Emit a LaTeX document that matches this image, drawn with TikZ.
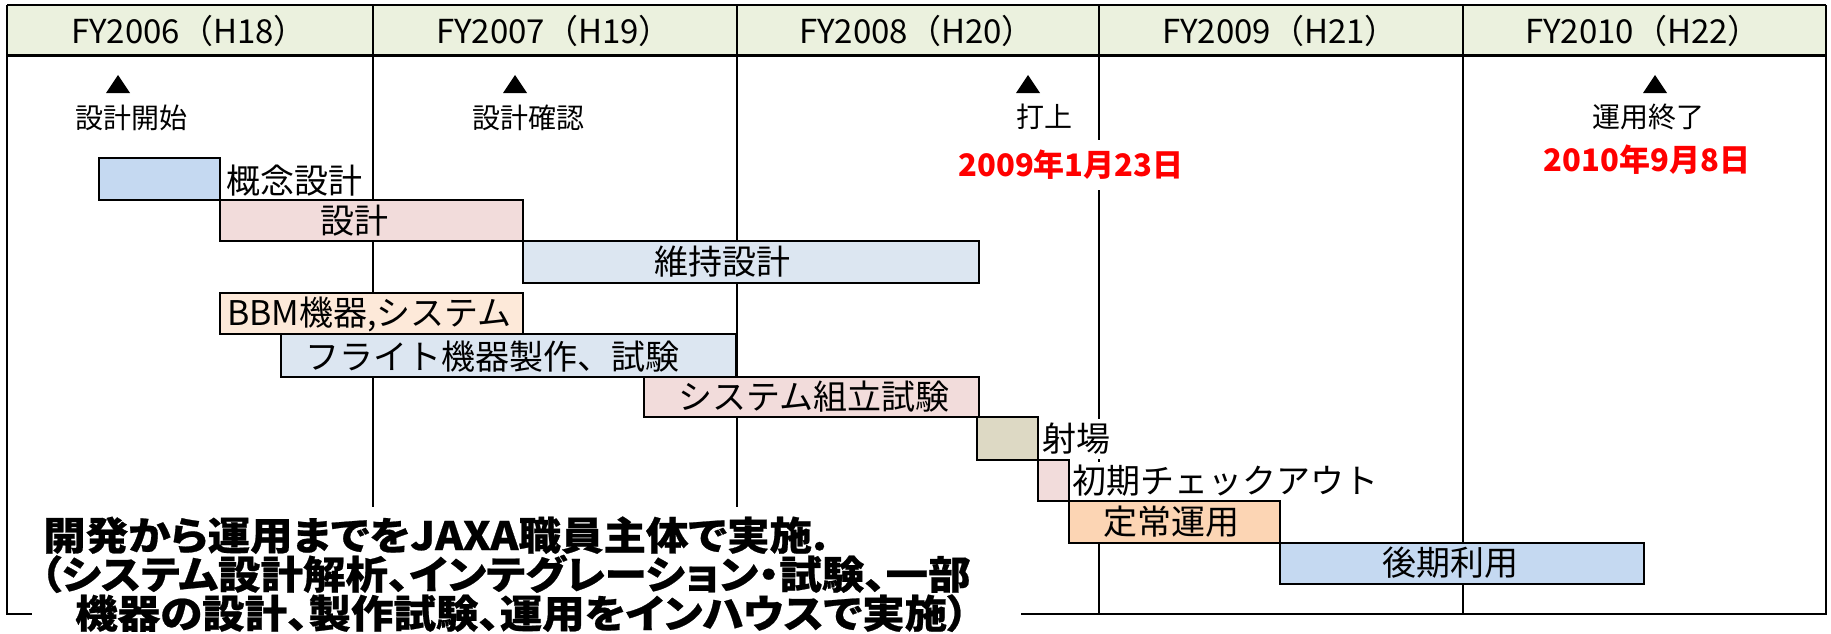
\documentclass[tikz,border=0pt]{standalone}
\usepackage{fontspec}
\newfontfamily\jp{Noto Sans CJK JP}
\newfontfamily\jpp{Noto Sans CJK JP}[RawFeature=+palt, FakeStretch=1.09, BoldFeatures={FakeBold=0.6}]
\definecolor{hdr}{HTML}{EBF1DE}
\definecolor{cblue}{HTML}{C5D9F1}
\definecolor{cpink}{HTML}{F2DCDB}
\definecolor{cgray}{HTML}{DCE6F1}
\definecolor{cpeach}{HTML}{FDE9D9}
\definecolor{ctan}{HTML}{DDD9C4}
\definecolor{corange}{HTML}{FCD5B4}
\tikzset{
  gridline/.style={line width=2.2pt, draw=black},
  bar/.style={draw=black, line width=2.5pt},
  barlbl/.style={font=\jp\fontsize{34}{34}\selectfont, inner sep=0pt},
  hdrlbl/.style={font=\jp\fontsize{33}{33}\selectfont, inner sep=0pt},
  mslbl/.style={font=\jp\fontsize{28}{28}\selectfont, inner sep=0pt},
  datelbl/.style={font=\jp\bfseries\fontsize{31}{31}\selectfont, text=red, fill=white, inner xsep=2pt, inner ysep=10pt},
  tri/.style={fill=black},
  note/.style={font=\jpp\bfseries\fontsize{39}{39}\selectfont, inner sep=0pt, anchor=base west},
}
\begin{document}
\begin{tikzpicture}[x=1pt,y=-1pt]
\useasboundingbox (0,0) rectangle (1831,634);
\fill[white] (0,0) rectangle (1831,634);
% header
\fill[hdr] (7,5) rectangle (1826,56);
\draw[gridline] (7,5) -- (1826,5);
\draw[gridline,line width=3pt] (7,56) -- (1826,56);
\draw[gridline] (7,5) -- (7,614) -- (32,614);
\draw[gridline] (1826,5) -- (1826,614) -- (1021,614);
\foreach \x in {373,737,1099,1463} \draw[gridline] (\x,5) -- (\x,614);
\node[hdrlbl] (h1) at (189,31) {FY2006（H18）};
\node[hdrlbl] (h2) at (554,31) {FY2007（H19）};
\node[hdrlbl] (h3) at (917,31) {FY2008（H20）};
\node[hdrlbl] (h4) at (1280,31) {FY2009（H21）};
\node[hdrlbl] (h5) at (1643,31) {FY2010（H22）};
% milestones
\foreach \cx in {118,515,1028,1655} \fill[tri] (\cx-12,93) -- (\cx+12,93) -- (\cx,75) -- cycle;
\node[mslbl] (m1) at (131,118) {設計開始};
\node[mslbl] (m2) at (528,118) {設計確認};
\node[mslbl] (m3) at (1044,117) {打上};
\node[mslbl] (m4) at (1648,117) {運用終了};
\node[datelbl] (d1) at (1071,165) {2009年1月23日};
\node[datelbl] (d2) at (1647,160) {2010年9月8日};
% bars
\draw[bar,fill=cblue] (99,158) rectangle (220,200);
\draw[bar,fill=cpink] (220,200) rectangle (523,241);
\draw[bar,fill=cgray] (523,241) rectangle (979,283);
\draw[bar,fill=cpeach] (220,293) rectangle (523,334);
\draw[bar,fill=cgray] (281,334) rectangle (736,377);
\draw[bar,fill=cpink] (644,377) rectangle (979,417);
\draw[bar,fill=ctan] (977,417) rectangle (1038,460);
\draw[bar,fill=cpink] (1038,460) rectangle (1069,501);
\draw[bar,fill=corange] (1069,501) rectangle (1280,543);
\draw[bar,fill=cblue] (1280,543) rectangle (1644,584);
% bar labels
\node[barlbl,anchor=west] (b1) at (226,181) {概念設計};
\node[barlbl] (b2) at (354,221) {設計};
\node[barlbl] (b3) at (722,262) {維持設計};
\node[barlbl,anchor=west] (b4) at (227,314) {BBM機器,システム};
\node[barlbl] (b5) at (492,357) {フライト機器製作、試験};
\node[barlbl] (b6) at (814,397) {システム組立試験};
\node[barlbl,anchor=west,fill=white,minimum height=40pt,inner xsep=2pt] (b7) at (1040,438.5) {射場};
\node[barlbl,anchor=west,fill=white,minimum height=38pt,inner xsep=2pt] (b8) at (1070,480.5) {初期チェックアウト};
\node[barlbl] (b9) at (1171,522) {定常運用};
\node[barlbl] (b10) at (1450,563) {後期利用};
% note
\fill[white] (32,507) rectangle (1021,634);
\node[note] (n1) at (43,550) {開発から運用までをJAXA職員主体で実施.};
\node[note] (n2) at (40,589) {（システム設計解析、インテグレーション・試験、一部};
\node[note] (n3) at (75,628) {機器の設計、製作試験、運用をインハウスで実施）};
\end{tikzpicture}
\end{document}
